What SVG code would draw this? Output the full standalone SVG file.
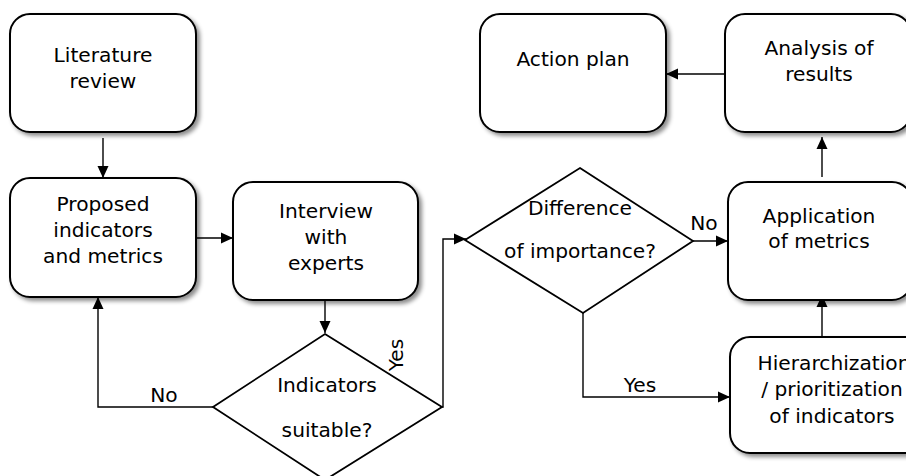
<svg xmlns="http://www.w3.org/2000/svg" width="906" height="476" viewBox="0 0 906 476">
<defs>
<filter id="sh" x="-10%" y="-10%" width="130%" height="130%">
<feDropShadow dx="3" dy="3" stdDeviation="2" flood-color="#000" flood-opacity="0.45"/>
</filter>
<marker id="ar" viewBox="0 0 12 12" refX="12" refY="6" markerWidth="12" markerHeight="12" markerUnits="userSpaceOnUse" orient="auto">
<path d="M0,0.5 L12,6 L0,11.5 Z" fill="#000"/>
</marker>
<style>
.box{fill:#fff;stroke:#000;stroke-width:2;filter:url(#sh)}
.dia{fill:#fff;stroke:#000;stroke-width:1.8}
.t{font-family:"DejaVu Sans",Verdana,sans-serif;font-size:20.2px;fill:#000;text-anchor:middle}
.c{fill:none;stroke:#000;stroke-width:1.4}
</style>
</defs>
<rect width="906" height="476" fill="#fff"/>
<g id="connectors">
<path class="c" d="M103,138 V178" marker-end="url(#ar)"/>
<path class="c" d="M196,238 H233" marker-end="url(#ar)"/>
<path class="c" d="M325,300 V333" marker-end="url(#ar)"/>
<path class="c" d="M213,407 H98 V297" marker-end="url(#ar)"/>
<path class="c" d="M442,407 H443 V239 H466" marker-end="url(#ar)"/>
<path class="c" d="M693,241 H728" marker-end="url(#ar)"/>
<path class="c" d="M583,313 V397 H730" marker-end="url(#ar)"/>
<path class="c" d="M822,337 V295" marker-end="url(#ar)"/>
<path class="c" d="M822,177 V137" marker-end="url(#ar)"/>
<path class="c" d="M725,74 H666" marker-end="url(#ar)"/>
<text class="t" x="164" y="402">No</text>
<text class="t" transform="translate(403,355) rotate(-90)" x="0" y="0">Yes</text>
<text class="t" x="704" y="230">No</text>
<text class="t" x="640" y="392">Yes</text>
</g>
<g id="literature">
<rect class="box" x="10" y="14" width="186" height="118" rx="20"/>
<text class="t" x="103" y="62">Literature</text>
<text class="t" x="103" y="88">review</text>
</g>
<g id="proposed">
<rect class="box" x="10" y="178" width="186" height="119" rx="20"/>
<text class="t" x="103" y="211">Proposed</text>
<text class="t" x="103" y="237">indicators</text>
<text class="t" x="103" y="263">and metrics</text>
</g>
<g id="interview">
<rect class="box" x="233" y="182" width="185" height="118" rx="20"/>
<text class="t" x="326" y="218">Interview</text>
<text class="t" x="326" y="244">with</text>
<text class="t" x="326" y="270">experts</text>
</g>
<g id="indicators">
<polygon class="dia" points="325,334 442,407 325,480 213,407"/>
<text class="t" x="327" y="392">Indicators</text>
<text class="t" x="327" y="437">suitable?</text>
</g>
<g id="difference">
<polygon class="dia" points="580,168 693,241 583,313 465,240"/>
<text class="t" x="580" y="215">Difference</text>
<text class="t" x="580" y="258">of importance?</text>
</g>
<g id="action">
<rect class="box" x="480" y="14" width="186" height="118" rx="20"/>
<text class="t" x="573" y="66">Action plan</text>
</g>
<g id="analysis">
<rect class="box" x="725" y="14" width="186" height="118" rx="20"/>
<text class="t" x="819" y="55">Analysis of</text>
<text class="t" x="819" y="81">results</text>
</g>
<g id="application">
<rect class="box" x="728" y="182" width="184" height="118" rx="20"/>
<text class="t" x="819" y="223">Application</text>
<text class="t" x="819" y="248">of metrics</text>
</g>
<g id="hierarchization">
<rect class="box" x="730" y="337" width="204" height="116" rx="20"/>
<text class="t" x="834" y="370">Hierarchization</text>
<text class="t" x="832" y="396">/ prioritization</text>
<text class="t" x="832" y="423">of indicators</text>
</g>
</svg>
